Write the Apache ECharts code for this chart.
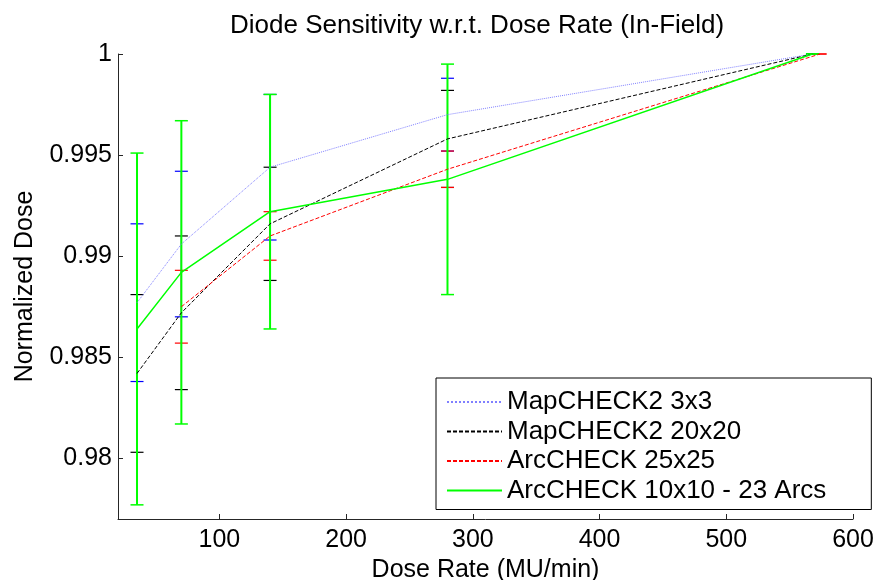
<!DOCTYPE html>
<html>
<head>
<meta charset="utf-8">
<script src="https://cdn.jsdelivr.net/npm/echarts@6/dist/echarts.min.js"></script>
<style>
html,body{margin:0;padding:0;background:#fff;}
#chart{width:877px;height:580px;}
</style>
</head>
<body>
<div id="chart"></div>
<script>
// ---- data ----
const seriesNames = ['MapCHECK2 3x3', 'MapCHECK2 20x20', 'ArcCHECK 25x25', 'ArcCHECK 10x10 - 23 Arcs'];
const mc3Dose = [35, 70, 140, 280, 568];
const mc3Value = [0.9877, 0.9906, 0.9944, 0.9970, 1.0];
const mc3Err = [0.0039, 0.0036, 0.0036, 0.0018, 0];
const mc20Dose = [35, 70, 140, 280, 568];
const mc20Value = [0.9842, 0.9872, 0.9916, 0.9958, 1.0];
const mc20Err = [0.0039, 0.0038, 0.0028, 0.0024, 0];
const ac25Dose = [70, 140, 280, 574];
const ac25Value = [0.9875, 0.9910, 0.9943, 1.0];
const ac25Err = [0.0018, 0.0012, 0.0009, 0];
const ac10Dose = [35, 70, 140, 280, 568];
const ac10Value = [0.9864, 0.9892, 0.9922, 0.9938, 1.0];
const ac10Err = [0.0087, 0.0075, 0.0058, 0.0057, 0];
const xTicks = [100, 200, 300, 400, 500, 600];
const yTicks = [0.98, 0.985, 0.99, 0.995, 1];

const FONT = "'Liberation Sans', Arial, sans-serif";

function pts(xs, ys) { return xs.map((x, i) => [x, ys[i]]); }
function bars(xs, ys, es) { return xs.map((x, i) => [x, ys[i] - es[i], ys[i] + es[i]]); }

function errorSeries(name, data, color, lw, stemW) {
  return {
    type: 'custom',
    name: name,
    data: data,
    clip: false,
    silent: true,
    renderItem: function (params, api) {
      const x = api.value(0), lo = api.value(1), hi = api.value(2);
      const t = api.coord([x, hi]);
      const b = api.coord([x, lo]);
      const hw = 6.5;
      const style = { stroke: color, lineWidth: lw, fill: null };
      const stemStyle = { stroke: color, lineWidth: stemW, fill: null };
      return {
        type: 'group',
        children: [
          { type: 'line', shape: { x1: t[0], y1: t[1], x2: b[0], y2: b[1] }, style: stemStyle },
          { type: 'line', shape: { x1: t[0] - hw, y1: t[1], x2: t[0] + hw, y2: t[1] }, style: style },
          { type: 'line', shape: { x1: b[0] - hw, y1: b[1], x2: b[0] + hw, y2: b[1] }, style: style }
        ]
      };
    }
  };
}

function lineSeries(name, data, color, type, width) {
  return {
    type: 'line',
    name: name,
    data: data,
    symbol: 'none',
    showSymbol: false,
    animation: false,
    lineStyle: { color: color, type: type, width: width },
    itemStyle: { color: color }
  };
}

const chart = echarts.init(document.getElementById('chart'), null, { renderer: 'canvas' });
chart.setOption({
  animation: false,
  backgroundColor: '#fff',
  title: {
    text: 'Diode Sensitivity w.r.t. Dose Rate (In-Field)',
    left: 230,
    top: 13,
    padding: 0,
    textStyle: { fontFamily: FONT, fontSize: 26, fontWeight: 'normal', color: '#000' }
  },
  grid: { left: 118, right: 24, top: 54, bottom: 61, containLabel: false, outerBoundsMode: 'none' },
  xAxis: {
    type: 'value',
    min: 20,
    max: 600,
    name: 'Dose Rate (MU/min)',
    nameLocation: 'middle',
    nameGap: 37,
    nameTextStyle: { fontFamily: FONT, fontSize: 25, color: '#000' },
    axisLine: { show: true, lineStyle: { color: '#262626', width: 1 } },
    axisTick: { show: true, inside: true, length: 5, customValues: xTicks, lineStyle: { color: '#262626' } },
    axisLabel: { customValues: xTicks, margin: 9, fontFamily: FONT, fontSize: 25, color: '#000' },
    splitLine: { show: false }
  },
  yAxis: {
    type: 'value',
    min: 0.977,
    max: 1,
    name: 'Normalized Dose',
    nameLocation: 'middle',
    nameGap: 80,
    nameTextStyle: { fontFamily: FONT, fontSize: 25, color: '#000' },
    axisLine: { show: true, lineStyle: { color: '#262626', width: 1 } },
    axisTick: { show: true, inside: true, length: 5, customValues: yTicks, lineStyle: { color: '#262626' } },
    axisLabel: { customValues: yTicks, margin: 6, fontFamily: FONT, fontSize: 25, color: '#000',
      formatter: function (v) { return String(+v.toFixed(3)); } },
    splitLine: { show: false }
  },
  legend: {
    data: seriesNames,
    orient: 'vertical',
    left: 436,
    top: 378,
    padding: [11, 45, 6, 10],
    itemWidth: 55,
    itemHeight: 12,
    itemGap: 3.5,
    borderColor: '#000',
    borderWidth: 1,
    backgroundColor: '#fff',
    selectedMode: false,
    itemStyle: { opacity: 0 },
    textStyle: { fontFamily: FONT, fontSize: 26, color: '#000', lineHeight: 26 }
  },
  series: [
    lineSeries(seriesNames[0], pts(mc3Dose, mc3Value), '#8080ff', 'dotted', 1),
    errorSeries('eb0', bars(mc3Dose, mc3Value, mc3Err), '#0000ff', 1.2, 1),
    lineSeries(seriesNames[1], pts(mc20Dose, mc20Value), '#000000', [4, 2], 1),
    errorSeries('eb1', bars(mc20Dose, mc20Value, mc20Err), '#000000', 1.2, 1),
    lineSeries(seriesNames[2], pts(ac25Dose, ac25Value), '#ff0000', [4, 2], 1),
    errorSeries('eb2', bars(ac25Dose, ac25Value, ac25Err), '#ff0000', 1.2, 1),
    lineSeries(seriesNames[3], pts(ac10Dose, ac10Value), '#00ff00', 'solid', 1.5),
    errorSeries('eb3', bars(ac10Dose, ac10Value, ac10Err), '#00ff00', 1.5, 2)
  ]
});
</script>
</body>
</html>
